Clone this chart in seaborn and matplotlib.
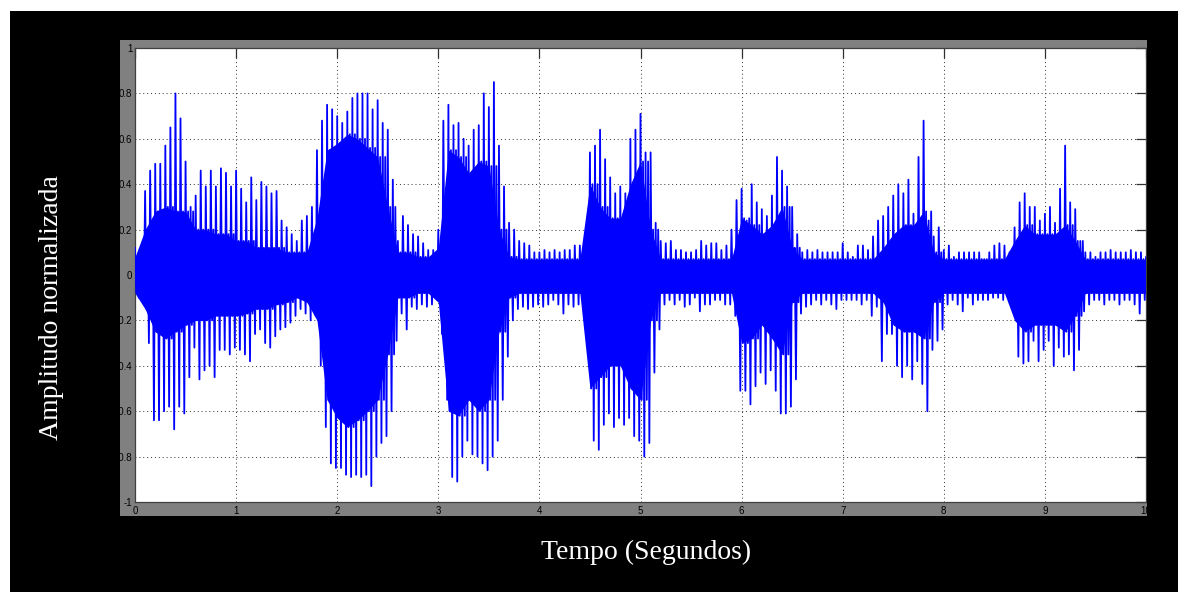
import numpy as np
import pandas as pd
import matplotlib
matplotlib.use("Agg")
import matplotlib.pyplot as plt
from matplotlib.patches import Rectangle
import seaborn as sns

# ---- data (normalised amplitude) ----
# peak envelope, one value every 0.05 s from 0 to 10 s
peak_upper = [
    0.12, 0.11, 0.37, 0.46, 0.49, 0.49, 0.57, 0.65, 0.80, 0.69,
    0.50, 0.30, 0.35, 0.46, 0.39, 0.46, 0.39, 0.47, 0.45, 0.39,
    0.46, 0.38, 0.32, 0.43, 0.33, 0.41, 0.39, 0.36, 0.37, 0.24,
    0.21, 0.18, 0.15, 0.24, 0.26, 0.30, 0.55, 0.68, 0.75, 0.73,
    0.70, 0.67, 0.72, 0.78, 0.80, 0.80, 0.80, 0.73, 0.77, 0.67,
    0.64, 0.42, 0.15, 0.26, 0.22, 0.18, 0.17, 0.14, 0.11, 0.11,
    0.20, 0.68, 0.75, 0.66, 0.67, 0.60, 0.57, 0.64, 0.66, 0.80,
    0.74, 0.85, 0.57, 0.39, 0.23, 0.20, 0.15, 0.14, 0.13, 0.10,
    0.10, 0.11, 0.10, 0.11, 0.10, 0.11, 0.11, 0.13, 0.13, 0.15,
    0.54, 0.57, 0.64, 0.51, 0.43, 0.36, 0.39, 0.36, 0.60, 0.64,
    0.71, 0.54, 0.54, 0.23, 0.15, 0.14, 0.15, 0.11, 0.11, 0.10,
    0.10, 0.11, 0.15, 0.13, 0.14, 0.14, 0.11, 0.13, 0.20, 0.33,
    0.38, 0.24, 0.40, 0.32, 0.29, 0.26, 0.35, 0.52, 0.46, 0.39,
    0.30, 0.18, 0.10, 0.11, 0.10, 0.11, 0.10, 0.10, 0.10, 0.10,
    0.14, 0.10, 0.08, 0.13, 0.13, 0.11, 0.17, 0.24, 0.26, 0.30,
    0.35, 0.40, 0.36, 0.42, 0.27, 0.52, 0.68, 0.24, 0.17, 0.21,
    0.11, 0.13, 0.08, 0.10, 0.10, 0.10, 0.10, 0.10, 0.07, 0.10,
    0.13, 0.14, 0.13, 0.10, 0.21, 0.32, 0.36, 0.30, 0.30, 0.24,
    0.27, 0.30, 0.23, 0.38, 0.57, 0.32, 0.29, 0.15, 0.10, 0.10,
    0.08, 0.10, 0.10, 0.11, 0.10, 0.10, 0.10, 0.11, 0.10, 0.10,
    0.08,
]
peak_lower = [
    -0.10, -0.12, -0.30, -0.64, -0.64, -0.60, -0.58, -0.68, -0.58, -0.61,
    -0.45, -0.32, -0.46, -0.42, -0.40, -0.45, -0.33, -0.33, -0.35, -0.32,
    -0.33, -0.35, -0.38, -0.26, -0.24, -0.30, -0.32, -0.27, -0.24, -0.23,
    -0.21, -0.18, -0.15, -0.17, -0.20, -0.18, -0.40, -0.67, -0.83, -0.85,
    -0.85, -0.88, -0.89, -0.88, -0.89, -0.88, -0.93, -0.80, -0.74, -0.71,
    -0.60, -0.29, -0.17, -0.24, -0.14, -0.15, -0.13, -0.14, -0.13, -0.11,
    -0.26, -0.55, -0.89, -0.91, -0.80, -0.73, -0.79, -0.80, -0.83, -0.86,
    -0.80, -0.73, -0.55, -0.36, -0.20, -0.15, -0.14, -0.15, -0.14, -0.13,
    -0.14, -0.13, -0.11, -0.13, -0.17, -0.13, -0.14, -0.13, -0.14, -0.18,
    -0.73, -0.77, -0.66, -0.61, -0.67, -0.63, -0.66, -0.63, -0.71, -0.73,
    -0.80, -0.74, -0.43, -0.24, -0.13, -0.11, -0.13, -0.11, -0.14, -0.13,
    -0.10, -0.16, -0.13, -0.13, -0.11, -0.11, -0.13, -0.13, -0.18, -0.51,
    -0.51, -0.57, -0.49, -0.43, -0.48, -0.42, -0.51, -0.61, -0.61, -0.58,
    -0.46, -0.17, -0.14, -0.13, -0.11, -0.13, -0.11, -0.13, -0.15, -0.11,
    -0.11, -0.11, -0.11, -0.13, -0.11, -0.18, -0.14, -0.38, -0.26, -0.26,
    -0.40, -0.45, -0.40, -0.46, -0.38, -0.48, -0.60, -0.33, -0.29, -0.24,
    -0.13, -0.11, -0.13, -0.16, -0.10, -0.13, -0.11, -0.11, -0.11, -0.10,
    -0.10, -0.11, -0.10, -0.11, -0.36, -0.39, -0.38, -0.29, -0.38, -0.33,
    -0.29, -0.40, -0.32, -0.36, -0.35, -0.42, -0.33, -0.16, -0.13, -0.11,
    -0.11, -0.13, -0.11, -0.11, -0.13, -0.11, -0.11, -0.13, -0.17, -0.11,
    -0.13,
]
# solid (dense) core of the waveform, one value every 0.1 s
core_upper = [
    0.08, 0.20, 0.28, 0.30, 0.28, 0.28, 0.20, 0.20, 0.18, 0.18,
    0.15, 0.15, 0.12, 0.12, 0.12, 0.10, 0.10, 0.10, 0.25, 0.55,
    0.58, 0.62, 0.60, 0.56, 0.52, 0.30, 0.10, 0.10, 0.08, 0.08,
    0.12, 0.55, 0.52, 0.45, 0.50, 0.48, 0.20, 0.08, 0.07, 0.07,
    0.07, 0.07, 0.07, 0.07, 0.07, 0.40, 0.30, 0.25, 0.25, 0.40,
    0.50, 0.20, 0.07, 0.07, 0.07, 0.07, 0.07, 0.07, 0.07, 0.07,
    0.25, 0.22, 0.18, 0.22, 0.30, 0.12, 0.07, 0.07, 0.07, 0.07,
    0.07, 0.07, 0.07, 0.07, 0.12, 0.18, 0.22, 0.22, 0.28, 0.10,
    0.07, 0.07, 0.07, 0.07, 0.07, 0.07, 0.07, 0.15, 0.22, 0.18,
    0.18, 0.18, 0.22, 0.15, 0.07, 0.07, 0.07, 0.07, 0.07, 0.07,
    0.07,
]
core_lower = [
    -0.08, -0.15, -0.25, -0.28, -0.25, -0.22, -0.20, -0.20, -0.18, -0.18,
    -0.18, -0.17, -0.15, -0.15, -0.13, -0.12, -0.10, -0.12, -0.20, -0.55,
    -0.63, -0.67, -0.64, -0.60, -0.55, -0.35, -0.10, -0.10, -0.08, -0.08,
    -0.12, -0.60, -0.62, -0.55, -0.60, -0.55, -0.25, -0.10, -0.08, -0.08,
    -0.08, -0.08, -0.08, -0.08, -0.08, -0.50, -0.45, -0.40, -0.40, -0.50,
    -0.55, -0.20, -0.08, -0.08, -0.08, -0.08, -0.08, -0.08, -0.08, -0.08,
    -0.30, -0.28, -0.22, -0.28, -0.35, -0.12, -0.08, -0.08, -0.08, -0.08,
    -0.08, -0.08, -0.08, -0.08, -0.12, -0.22, -0.25, -0.25, -0.28, -0.12,
    -0.08, -0.08, -0.08, -0.08, -0.08, -0.08, -0.08, -0.20, -0.25, -0.22,
    -0.22, -0.22, -0.25, -0.18, -0.08, -0.08, -0.08, -0.08, -0.08, -0.08,
    -0.08,
]
x_ticks = [0, 1, 2, 3, 4, 5, 6, 7, 8, 9, 10]
x_tick_labels = ["0", "1", "2", "3", "4", "5", "6", "7", "8", "9", "10"]
y_ticks = [-1, -0.8, -0.6, -0.4, -0.2, 0, 0.2, 0.4, 0.6, 0.8, 1]
y_tick_labels = ["-1", "-0.8", "-0.6", "-0.4", "-0.2", "0", "0.2", "0.4", "0.6", "0.8", "1"]
x_label = "Tempo (Segundos)"
y_label = "Amplitudo normalizada"

# ---- build the trace: every 0.05 s the signal swings peak-up, core-down,
# core-up, peak-down (core readings hold for their 0.1 s window) ----
peak_step = 0.05
core_step = 0.1
peak_t = np.arange(len(peak_upper)) * peak_step
core_t = np.arange(len(core_upper)) * core_step
core_idx = np.arange(len(peak_upper)) // 2
cu = np.asarray(core_upper)[core_idx]
cl = np.asarray(core_lower)[core_idx]
q = peak_step / 4
wave = pd.DataFrame({
    "t": np.column_stack([peak_t, peak_t + q, peak_t + 2 * q, peak_t + 3 * q]).ravel(),
    "amp": np.column_stack([peak_upper, cl, cu, peak_lower]).ravel(),
})

sns.set_style("white")
plt.rcParams["font.family"] = ["Liberation Sans", "DejaVu Sans"]

W, H = 1183, 592
fig = plt.figure(figsize=(W / 100, H / 100), dpi=100, facecolor="white")
# black slide background and grey MATLAB figure panel
fig.add_artist(Rectangle((10 / W, 0), 1168 / W, 581 / H, transform=fig.transFigure,
                         facecolor="black", edgecolor="none", zorder=-3))
fig.add_artist(Rectangle((120 / W, 76 / H), 1028 / W, 476 / H, transform=fig.transFigure,
                         facecolor="#808080", edgecolor="none", zorder=-2))

ax = fig.add_axes([135 / W, 90 / H, 1011 / W, 454 / H])
ax.set_facecolor("white")

ax.fill_between(core_t, core_lower, core_upper, color="#0000ff", linewidth=0, zorder=2)
sns.lineplot(data=wave, x="t", y="amp", ax=ax, color="#0000ff", linewidth=1.3,
             estimator=None, sort=False, zorder=3)

ax.set_xlim(0, 10)
ax.set_ylim(-1, 1)
ax.set_xticks(x_ticks)
ax.set_xticklabels(x_tick_labels)
ax.set_yticks(y_ticks)
ax.set_yticklabels(y_tick_labels)
ax.set_xlabel("")
ax.set_ylabel("")
ax.set_axisbelow(True)
ax.grid(True, linestyle=(0, (1, 3)), color="#303030", linewidth=0.7)
ax.tick_params(axis="both", direction="in", length=7, width=0.9, color="#303030",
               top=True, right=True, labelsize=7, labelcolor="black")
ax.tick_params(axis="y", pad=2)
ax.tick_params(axis="x", pad=3)
for sp in ax.spines.values():
    sp.set_color("#404040")
    sp.set_linewidth(0.9)

# the grey panel crops tick labels at its edges (as in the screenshot)
fig.add_artist(Rectangle((10 / W, 76 / H), 110 / W, 476 / H, transform=fig.transFigure,
                         facecolor="black", edgecolor="none", zorder=10))
fig.add_artist(Rectangle((1147 / W, 76 / H), 31 / W, 476 / H, transform=fig.transFigure,
                         facecolor="black", edgecolor="none", zorder=10))

fig.text(52 / W, (H - 308) / H, y_label, rotation=90, ha="center", va="center",
         color="white", fontsize=20, family=["Liberation Serif", "DejaVu Serif"], zorder=11)
fig.text(646 / W, (H - 552) / H, x_label, ha="center", va="center",
         color="white", fontsize=20, family=["Liberation Serif", "DejaVu Serif"], zorder=11)

fig.savefig("out.png", dpi=100, facecolor=fig.get_facecolor())
